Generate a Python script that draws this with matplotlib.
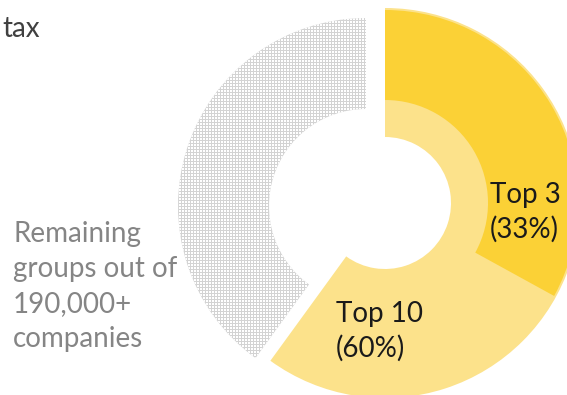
import numpy as np
import matplotlib.pyplot as plt

# share of the tax paid, by group
top3_share = 33
top10_share = 60
remaining_share = 100 - top10_share

top3_label = ["Top 3", "(33%)"]
top10_label = ["Top 10", "(60%)"]
remaining_label = ["Remaining", "groups out of", "190,000+", "companies"]

DARK = "#fbd136"
LIGHT = "#fce28b"
GREY = "#d3d3d3"

plt.rcParams['font.family'] = ['Lato', 'DejaVu Sans']

W, H = 567, 395
fig = plt.figure(figsize=(W / 100, H / 100), dpi=100)
ax = fig.add_axes([0, 0, 1, 1])

# work in pixel units, y measured up from the bottom
center = (385, H - 203)
hole = 66

# top 10: full-thickness light ring
w10, _ = ax.pie([top10_share, 100 - top10_share], colors=[LIGHT, "none"],
                radius=195, center=center, startangle=90, counterclock=False,
                wedgeprops=dict(width=195 - hole, linewidth=0))

# top 3: outer band over the top 10 ring
w3, _ = ax.pie([top3_share, 100 - top3_share], colors=[DARK, "none"],
               radius=193, center=center, startangle=90, counterclock=False,
               wedgeprops=dict(width=90, linewidth=0))

# remaining groups: separate thinner band, shifted left
g_center = (366, H - 206)
wg, _ = ax.pie([100 - remaining_share, remaining_share], colors=["none", GREY],
               radius=188, center=g_center, startangle=90, counterclock=False,
               wedgeprops=dict(width=91, linewidth=0))
grey_wedge = wg[1]

# white dot texture inside the grey band
gx, gy = np.meshgrid(np.arange(170, 372, 3.0), np.arange(10, 390, 3.0))
dots = ax.scatter(gx.ravel() + 0.5, gy.ravel() + 0.5, s=2.0, marker='s',
                  color='white', linewidths=0, zorder=3)
dots.set_clip_path(grey_wedge)

ax.set_xlim(0, W)
ax.set_ylim(0, H)
ax.set_aspect('equal')
ax.axis('off')

fs = 20
ax.text(2, H - 37, "tax", fontsize=fs, color="#404040", va='baseline', ha='left')

for i, line in enumerate(remaining_label):
    ax.text(13, H - (242 + 35 * i), line, fontsize=fs, color="#858585",
            va='baseline', ha='left')

for i, line in enumerate(top10_label):
    ax.text(336, H - (322 + 35 * i), line, fontsize=fs, color="#1a1a1a",
            va='baseline', ha='left', zorder=5)

for i, line in enumerate(top3_label):
    ax.text(490, H - (203 + 35 * i), line, fontsize=fs, color="#1a1a1a",
            va='baseline', ha='left', zorder=5)

fig.savefig("out.png", dpi=100)
